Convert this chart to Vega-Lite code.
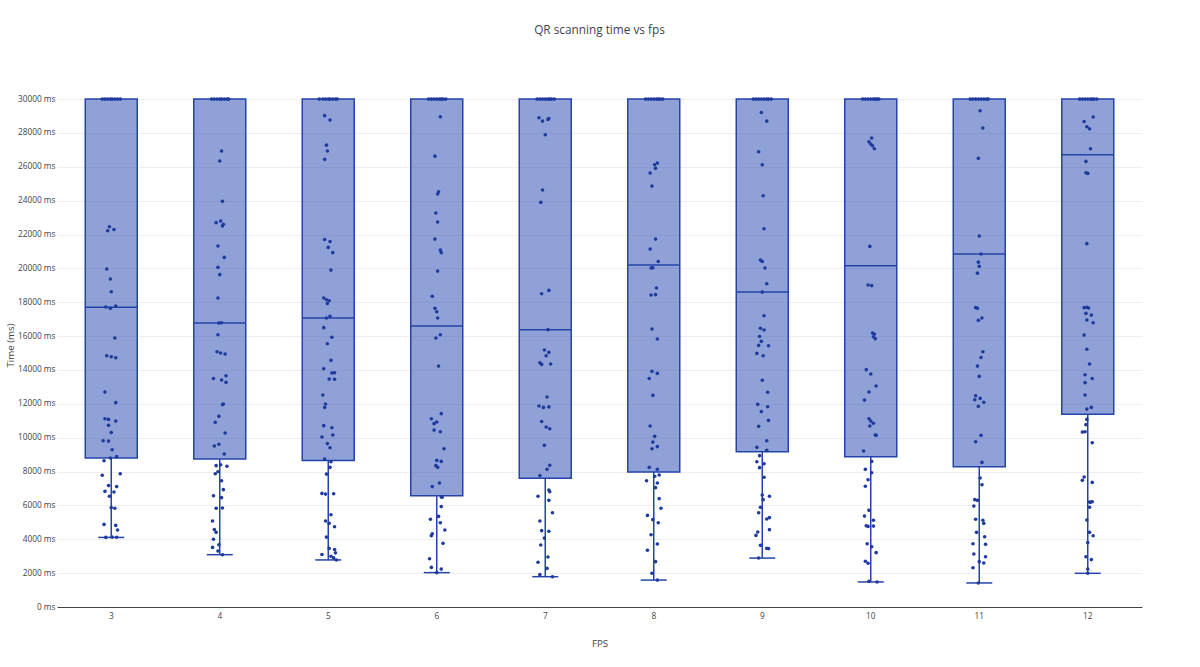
{
  "$schema": "https://vega.github.io/schema/vega-lite/v6.json",
  "width": 1085,
  "height": 524,
  "autosize": {"type": "none"},
  "padding": {"left": 57, "top": 83, "right": 58, "bottom": 60},
  "background": "white",
  "title": {"text": "QR scanning time vs fps", "font": "Open Sans", "fontSize": 11.8, "fontWeight": "normal", "color": "#444", "anchor": "middle", "offset": 46},
  "config": {
    "font": "Open Sans",
    "view": {"stroke": null},
    "axisY": {
      "labelOverlap": false,
      "domain": false,
      "ticks": false,
      "gridColor": "#eeeeee",
      "gridWidth": 1,
      "labelFont": "Open Sans",
      "labelFontSize": 8.3,
      "labelColor": "#444",
      "labelPadding": 2,
      "titleFont": "Open Sans",
      "titleFontSize": 9.7,
      "titleFontWeight": "normal",
      "titleColor": "#444"
    }
  },
  "datasets": {
    "boxes": [
      {"fps": 3, "lo": 4110, "q1": 8800, "med": 17700, "q3": 30000},
      {"fps": 4, "lo": 3090, "q1": 8740, "med": 16770, "q3": 30000},
      {"fps": 5, "lo": 2780, "q1": 8660, "med": 17070, "q3": 30000},
      {"fps": 6, "lo": 2030, "q1": 6570, "med": 16590, "q3": 30000},
      {"fps": 7, "lo": 1790, "q1": 7600, "med": 16380, "q3": 30000},
      {"fps": 8, "lo": 1590, "q1": 7970, "med": 20200, "q3": 30000},
      {"fps": 9, "lo": 2890, "q1": 9170, "med": 18600, "q3": 30000},
      {"fps": 10, "lo": 1480, "q1": 8880, "med": 20160, "q3": 30000},
      {"fps": 11, "lo": 1420, "q1": 8290, "med": 20850, "q3": 30000},
      {"fps": 12, "lo": 1990, "q1": 11380, "med": 26710, "q3": 30000}
    ],
    "pts": [
      {"fps": 3, "t": 30000, "j": -1.0}, {"fps": 3, "t": 30000, "j": -0.7}, {"fps": 3, "t": 30000, "j": -0.4}, {"fps": 3, "t": 30000, "j": -0.1},
      {"fps": 3, "t": 30000, "j": 0.1}, {"fps": 3, "t": 30000, "j": 0.4}, {"fps": 3, "t": 30000, "j": 0.7}, {"fps": 3, "t": 30000, "j": 1.0},
      {"fps": 3, "t": 22460, "j": -0.2}, {"fps": 3, "t": 22220, "j": -0.4}, {"fps": 3, "t": 22300, "j": 0.3},
      {"fps": 3, "t": 19960, "j": -0.5}, {"fps": 3, "t": 19370, "j": -0.1}, {"fps": 3, "t": 18620, "j": 0.0},
      {"fps": 3, "t": 17720, "j": -0.6}, {"fps": 3, "t": 17640, "j": -0.1}, {"fps": 3, "t": 17780, "j": 0.5},
      {"fps": 3, "t": 15890, "j": 0.4}, {"fps": 3, "t": 14840, "j": -0.5}, {"fps": 3, "t": 14780, "j": 0.0}, {"fps": 3, "t": 14720, "j": 0.5},
      {"fps": 3, "t": 12700, "j": -0.7}, {"fps": 3, "t": 12070, "j": 0.5}, {"fps": 3, "t": 11120, "j": -0.7},
      {"fps": 3, "t": 11080, "j": -0.3}, {"fps": 3, "t": 10980, "j": 0.5}, {"fps": 3, "t": 10730, "j": -0.3},
      {"fps": 3, "t": 10300, "j": 0.0}, {"fps": 3, "t": 9820, "j": -0.9}, {"fps": 3, "t": 9800, "j": -0.3},
      {"fps": 3, "t": 9290, "j": 0.1}, {"fps": 3, "t": 8880, "j": 0.6}, {"fps": 3, "t": 8800, "j": -0.1}, {"fps": 3, "t": 8640, "j": -0.8},
      {"fps": 3, "t": 7870, "j": 1.0}, {"fps": 3, "t": 7780, "j": -1.0}, {"fps": 3, "t": 7170, "j": -0.3}, {"fps": 3, "t": 7110, "j": 0.6},
      {"fps": 3, "t": 6830, "j": -0.7}, {"fps": 3, "t": 6790, "j": 0.3}, {"fps": 3, "t": 6540, "j": -0.2},
      {"fps": 3, "t": 5870, "j": 0.0}, {"fps": 3, "t": 5830, "j": 0.4}, {"fps": 3, "t": 4880, "j": -0.8},
      {"fps": 3, "t": 4820, "j": 0.5}, {"fps": 3, "t": 4550, "j": 0.7}, {"fps": 3, "t": 4110, "j": -0.6}, {"fps": 3, "t": 4130, "j": 0.1}, {"fps": 3, "t": 4120, "j": 0.6},

      {"fps": 4, "t": 30000, "j": -0.9}, {"fps": 4, "t": 30000, "j": -0.6}, {"fps": 4, "t": 30000, "j": -0.3}, {"fps": 4, "t": 30000, "j": 0.0},
      {"fps": 4, "t": 30000, "j": 0.2}, {"fps": 4, "t": 30000, "j": 0.5}, {"fps": 4, "t": 30000, "j": 0.8}, {"fps": 4, "t": 30000, "j": 1.0},
      {"fps": 4, "t": 26930, "j": 0.2}, {"fps": 4, "t": 26340, "j": 0.0}, {"fps": 4, "t": 23960, "j": 0.3},
      {"fps": 4, "t": 22800, "j": 0.1}, {"fps": 4, "t": 22700, "j": -0.4}, {"fps": 4, "t": 22600, "j": 0.4}, {"fps": 4, "t": 22500, "j": 0.3},
      {"fps": 4, "t": 21320, "j": -0.2}, {"fps": 4, "t": 20650, "j": 0.5}, {"fps": 4, "t": 20060, "j": -0.2}, {"fps": 4, "t": 19630, "j": 0.0},
      {"fps": 4, "t": 18250, "j": -0.2}, {"fps": 4, "t": 16770, "j": -0.1}, {"fps": 4, "t": 16790, "j": 0.2}, {"fps": 4, "t": 16080, "j": -0.2},
      {"fps": 4, "t": 15080, "j": -0.3}, {"fps": 4, "t": 15000, "j": 0.1}, {"fps": 4, "t": 14940, "j": 0.6},
      {"fps": 4, "t": 13660, "j": 0.7}, {"fps": 4, "t": 13500, "j": -0.7}, {"fps": 4, "t": 13410, "j": 0.2}, {"fps": 4, "t": 13270, "j": 0.7},
      {"fps": 4, "t": 11990, "j": 0.4}, {"fps": 4, "t": 11950, "j": 0.3}, {"fps": 4, "t": 11260, "j": -0.1}, {"fps": 4, "t": 10910, "j": -0.5},
      {"fps": 4, "t": 10280, "j": 0.6}, {"fps": 4, "t": 9610, "j": -0.1}, {"fps": 4, "t": 9510, "j": -0.6}, {"fps": 4, "t": 9040, "j": 0.5},
      {"fps": 4, "t": 8400, "j": 0.1}, {"fps": 4, "t": 8350, "j": -0.4}, {"fps": 4, "t": 8310, "j": 0.8},
      {"fps": 4, "t": 7990, "j": -0.2}, {"fps": 4, "t": 7870, "j": -0.5}, {"fps": 4, "t": 7460, "j": 0.2}, {"fps": 4, "t": 6930, "j": 0.4},
      {"fps": 4, "t": 6570, "j": -0.7}, {"fps": 4, "t": 6460, "j": 0.2}, {"fps": 4, "t": 5830, "j": -0.4}, {"fps": 4, "t": 5850, "j": 0.3},
      {"fps": 4, "t": 5080, "j": -0.8}, {"fps": 4, "t": 4570, "j": -0.6}, {"fps": 4, "t": 4410, "j": -0.4}, {"fps": 4, "t": 4000, "j": -0.7},
      {"fps": 4, "t": 3680, "j": -0.1}, {"fps": 4, "t": 3520, "j": -0.8}, {"fps": 4, "t": 3310, "j": -0.2}, {"fps": 4, "t": 3090, "j": 0.3},

      {"fps": 5, "t": 30000, "j": -1.0}, {"fps": 5, "t": 30000, "j": -0.6}, {"fps": 5, "t": 30000, "j": -0.3}, {"fps": 5, "t": 30000, "j": 0.0},
      {"fps": 5, "t": 30000, "j": 0.2}, {"fps": 5, "t": 30000, "j": 0.5}, {"fps": 5, "t": 30000, "j": 0.8}, {"fps": 5, "t": 30000, "j": 1.0},
      {"fps": 5, "t": 29020, "j": -0.4}, {"fps": 5, "t": 28760, "j": 0.2}, {"fps": 5, "t": 27280, "j": -0.2}, {"fps": 5, "t": 26930, "j": -0.1}, {"fps": 5, "t": 26440, "j": -0.4},
      {"fps": 5, "t": 21710, "j": -0.4}, {"fps": 5, "t": 21590, "j": 0.2}, {"fps": 5, "t": 21240, "j": 0.0}, {"fps": 5, "t": 20930, "j": 0.5},
      {"fps": 5, "t": 19900, "j": 0.3}, {"fps": 5, "t": 18250, "j": -0.5}, {"fps": 5, "t": 18150, "j": -0.2}, {"fps": 5, "t": 18090, "j": 0.1}, {"fps": 5, "t": 17930, "j": -0.1},
      {"fps": 5, "t": 17170, "j": 0.2}, {"fps": 5, "t": 17070, "j": -0.2}, {"fps": 5, "t": 16500, "j": -0.5}, {"fps": 5, "t": 15930, "j": 0.4},
      {"fps": 5, "t": 15550, "j": -0.1}, {"fps": 5, "t": 14570, "j": 0.3}, {"fps": 5, "t": 14070, "j": -0.5}, {"fps": 5, "t": 13840, "j": 0.7},
      {"fps": 5, "t": 13820, "j": 0.4}, {"fps": 5, "t": 13460, "j": 0.1}, {"fps": 5, "t": 13450, "j": 0.7}, {"fps": 5, "t": 12520, "j": -0.6},
      {"fps": 5, "t": 11990, "j": -0.3}, {"fps": 5, "t": 11790, "j": -0.4}, {"fps": 5, "t": 10710, "j": -0.5}, {"fps": 5, "t": 10590, "j": 0.4},
      {"fps": 5, "t": 10160, "j": 0.5}, {"fps": 5, "t": 10040, "j": -0.7}, {"fps": 5, "t": 9650, "j": -0.1}, {"fps": 5, "t": 9410, "j": 0.2},
      {"fps": 5, "t": 8740, "j": -0.4}, {"fps": 5, "t": 8580, "j": 0.3}, {"fps": 5, "t": 8250, "j": 0.2}, {"fps": 5, "t": 7850, "j": -0.2},
      {"fps": 5, "t": 6710, "j": -0.7}, {"fps": 5, "t": 6670, "j": -0.3}, {"fps": 5, "t": 6690, "j": 0.6},
      {"fps": 5, "t": 5450, "j": 0.3}, {"fps": 5, "t": 5080, "j": -0.3}, {"fps": 5, "t": 4940, "j": 0.1}, {"fps": 5, "t": 4740, "j": 0.7},
      {"fps": 5, "t": 4130, "j": -0.2}, {"fps": 5, "t": 3460, "j": 0.1}, {"fps": 5, "t": 3400, "j": 0.7}, {"fps": 5, "t": 3200, "j": 0.8},
      {"fps": 5, "t": 3100, "j": -0.7}, {"fps": 5, "t": 3000, "j": 0.3}, {"fps": 5, "t": 2900, "j": 0.6}, {"fps": 5, "t": 2780, "j": 0.9},

      {"fps": 6, "t": 30000, "j": -0.9}, {"fps": 6, "t": 30000, "j": -0.6}, {"fps": 6, "t": 30000, "j": -0.3}, {"fps": 6, "t": 30000, "j": 0.0},
      {"fps": 6, "t": 30000, "j": 0.3}, {"fps": 6, "t": 30000, "j": 0.5}, {"fps": 6, "t": 30000, "j": 0.7}, {"fps": 6, "t": 30000, "j": 1.0},
      {"fps": 6, "t": 28960, "j": 0.4}, {"fps": 6, "t": 26630, "j": -0.2}, {"fps": 6, "t": 24530, "j": 0.2}, {"fps": 6, "t": 24390, "j": 0.1},
      {"fps": 6, "t": 23270, "j": -0.1}, {"fps": 6, "t": 22740, "j": 0.1}, {"fps": 6, "t": 21730, "j": -0.2}, {"fps": 6, "t": 21080, "j": 0.4},
      {"fps": 6, "t": 20930, "j": 0.5}, {"fps": 6, "t": 19840, "j": 0.1}, {"fps": 6, "t": 18350, "j": -0.5}, {"fps": 6, "t": 17640, "j": -0.2},
      {"fps": 6, "t": 17440, "j": 0.0}, {"fps": 6, "t": 17070, "j": 0.1}, {"fps": 6, "t": 16080, "j": 0.4}, {"fps": 6, "t": 15890, "j": -0.1},
      {"fps": 6, "t": 14230, "j": 0.2}, {"fps": 6, "t": 11420, "j": 0.5}, {"fps": 6, "t": 11120, "j": -0.6}, {"fps": 6, "t": 10930, "j": 0.0},
      {"fps": 6, "t": 10830, "j": -0.3}, {"fps": 6, "t": 10450, "j": -0.3}, {"fps": 6, "t": 10350, "j": 0.4}, {"fps": 6, "t": 9350, "j": 0.8},
      {"fps": 6, "t": 8660, "j": 0.0}, {"fps": 6, "t": 8600, "j": 0.5}, {"fps": 6, "t": 8350, "j": -0.1}, {"fps": 6, "t": 8250, "j": 0.1},
      {"fps": 6, "t": 7320, "j": 0.3}, {"fps": 6, "t": 7110, "j": -0.5}, {"fps": 6, "t": 6500, "j": 0.5}, {"fps": 6, "t": 6480, "j": 0.6},
      {"fps": 6, "t": 5930, "j": 0.5}, {"fps": 6, "t": 5350, "j": 0.2}, {"fps": 6, "t": 5180, "j": -0.7}, {"fps": 6, "t": 4980, "j": 0.4},
      {"fps": 6, "t": 4550, "j": 0.9}, {"fps": 6, "t": 4330, "j": -0.5}, {"fps": 6, "t": 4210, "j": -0.6}, {"fps": 6, "t": 3760, "j": 0.7},
      {"fps": 6, "t": 2850, "j": -0.8}, {"fps": 6, "t": 2340, "j": -0.6}, {"fps": 6, "t": 2240, "j": 0.5}, {"fps": 6, "t": 2030, "j": 0.0},

      {"fps": 7, "t": 30000, "j": -0.9}, {"fps": 7, "t": 30000, "j": -0.6}, {"fps": 7, "t": 30000, "j": -0.3}, {"fps": 7, "t": 30000, "j": 0.0},
      {"fps": 7, "t": 30000, "j": 0.3}, {"fps": 7, "t": 30000, "j": 0.5}, {"fps": 7, "t": 30000, "j": 0.7}, {"fps": 7, "t": 30000, "j": 1.0},
      {"fps": 7, "t": 28900, "j": -0.7}, {"fps": 7, "t": 28700, "j": -0.3}, {"fps": 7, "t": 28800, "j": 0.3}, {"fps": 7, "t": 28850, "j": 0.4},
      {"fps": 7, "t": 27890, "j": 0.0}, {"fps": 7, "t": 24630, "j": -0.3}, {"fps": 7, "t": 23900, "j": -0.5}, {"fps": 7, "t": 18700, "j": 0.4},
      {"fps": 7, "t": 18500, "j": -0.4}, {"fps": 7, "t": 16380, "j": 0.3}, {"fps": 7, "t": 15180, "j": -0.1}, {"fps": 7, "t": 15040, "j": 0.4},
      {"fps": 7, "t": 14840, "j": 0.1}, {"fps": 7, "t": 14430, "j": -0.6}, {"fps": 7, "t": 14330, "j": -0.4}, {"fps": 7, "t": 14350, "j": 0.6},
      {"fps": 7, "t": 12400, "j": 0.2}, {"fps": 7, "t": 11870, "j": -0.7}, {"fps": 7, "t": 11790, "j": -0.2}, {"fps": 7, "t": 11820, "j": 0.4},
      {"fps": 7, "t": 10960, "j": -0.4}, {"fps": 7, "t": 10630, "j": 0.1}, {"fps": 7, "t": 10530, "j": 0.5}, {"fps": 7, "t": 9550, "j": -0.1},
      {"fps": 7, "t": 8370, "j": 0.5}, {"fps": 7, "t": 8130, "j": 0.2}, {"fps": 7, "t": 7760, "j": -0.6}, {"fps": 7, "t": 6910, "j": 0.4},
      {"fps": 7, "t": 6810, "j": 0.5}, {"fps": 7, "t": 6540, "j": -0.8}, {"fps": 7, "t": 6300, "j": 0.4}, {"fps": 7, "t": 5570, "j": 0.8},
      {"fps": 7, "t": 5080, "j": -0.6}, {"fps": 7, "t": 4510, "j": -0.4}, {"fps": 7, "t": 4470, "j": 0.4}, {"fps": 7, "t": 4070, "j": -0.1},
      {"fps": 7, "t": 3660, "j": -0.5}, {"fps": 7, "t": 2950, "j": 0.3}, {"fps": 7, "t": 2640, "j": -0.8}, {"fps": 7, "t": 2280, "j": 0.2},
      {"fps": 7, "t": 1910, "j": -0.6}, {"fps": 7, "t": 1790, "j": 0.8},

      {"fps": 8, "t": 30000, "j": -0.9}, {"fps": 8, "t": 30000, "j": -0.6}, {"fps": 8, "t": 30000, "j": -0.3}, {"fps": 8, "t": 30000, "j": 0.0},
      {"fps": 8, "t": 30000, "j": 0.3}, {"fps": 8, "t": 30000, "j": 0.5}, {"fps": 8, "t": 30000, "j": 0.7}, {"fps": 8, "t": 30000, "j": 1.0},
      {"fps": 8, "t": 26220, "j": 0.4}, {"fps": 8, "t": 26120, "j": 0.1}, {"fps": 8, "t": 25910, "j": 0.2}, {"fps": 8, "t": 25630, "j": -0.4},
      {"fps": 8, "t": 24860, "j": -0.2}, {"fps": 8, "t": 21730, "j": 0.2}, {"fps": 8, "t": 21140, "j": -0.4}, {"fps": 8, "t": 20410, "j": 0.5},
      {"fps": 8, "t": 20020, "j": -0.3}, {"fps": 8, "t": 20040, "j": -0.1}, {"fps": 8, "t": 18840, "j": 0.3}, {"fps": 8, "t": 18430, "j": -0.3},
      {"fps": 8, "t": 18450, "j": 0.2}, {"fps": 8, "t": 16420, "j": -0.2}, {"fps": 8, "t": 15830, "j": 0.4}, {"fps": 8, "t": 13920, "j": -0.2},
      {"fps": 8, "t": 13800, "j": 0.4}, {"fps": 8, "t": 13500, "j": -0.5}, {"fps": 8, "t": 12500, "j": -0.1}, {"fps": 8, "t": 10690, "j": -0.4},
      {"fps": 8, "t": 10080, "j": 0.1}, {"fps": 8, "t": 9740, "j": -0.1}, {"fps": 8, "t": 9470, "j": 0.4}, {"fps": 8, "t": 9350, "j": -0.2},
      {"fps": 8, "t": 8250, "j": -0.5}, {"fps": 8, "t": 8130, "j": 0.4}, {"fps": 8, "t": 7800, "j": 0.6}, {"fps": 8, "t": 7720, "j": 0.1},
      {"fps": 8, "t": 7460, "j": -0.8}, {"fps": 8, "t": 7320, "j": 0.4}, {"fps": 8, "t": 7050, "j": 0.2}, {"fps": 8, "t": 6400, "j": 0.6},
      {"fps": 8, "t": 5830, "j": 0.8}, {"fps": 8, "t": 5410, "j": -0.7}, {"fps": 8, "t": 5160, "j": -0.1}, {"fps": 8, "t": 4980, "j": 0.5},
      {"fps": 8, "t": 4270, "j": -0.3}, {"fps": 8, "t": 3720, "j": 0.4}, {"fps": 8, "t": 3350, "j": -0.7}, {"fps": 8, "t": 2680, "j": 0.2},
      {"fps": 8, "t": 1990, "j": -0.2}, {"fps": 8, "t": 1590, "j": 0.4},

      {"fps": 9, "t": 30000, "j": -1.0}, {"fps": 9, "t": 30000, "j": -0.7}, {"fps": 9, "t": 30000, "j": -0.4}, {"fps": 9, "t": 30000, "j": -0.1},
      {"fps": 9, "t": 30000, "j": 0.2}, {"fps": 9, "t": 30000, "j": 0.5}, {"fps": 9, "t": 30000, "j": 0.7}, {"fps": 9, "t": 30000, "j": 1.0},
      {"fps": 9, "t": 29210, "j": -0.1}, {"fps": 9, "t": 28700, "j": 0.5}, {"fps": 9, "t": 26890, "j": -0.4}, {"fps": 9, "t": 26120, "j": 0.0},
      {"fps": 9, "t": 24290, "j": 0.1}, {"fps": 9, "t": 22340, "j": 0.2}, {"fps": 9, "t": 20490, "j": -0.2}, {"fps": 9, "t": 20410, "j": 0.0},
      {"fps": 9, "t": 20020, "j": 0.3}, {"fps": 9, "t": 19090, "j": 0.5}, {"fps": 9, "t": 18600, "j": 0.0}, {"fps": 9, "t": 17200, "j": 0.2},
      {"fps": 9, "t": 16460, "j": -0.2}, {"fps": 9, "t": 16360, "j": 0.2}, {"fps": 9, "t": 15980, "j": -0.3}, {"fps": 9, "t": 15690, "j": -0.1},
      {"fps": 9, "t": 15450, "j": -0.4}, {"fps": 9, "t": 15430, "j": 0.7}, {"fps": 9, "t": 14980, "j": -0.6}, {"fps": 9, "t": 14840, "j": 0.1},
      {"fps": 9, "t": 13390, "j": 0.0}, {"fps": 9, "t": 12680, "j": 0.6}, {"fps": 9, "t": 11970, "j": -0.5}, {"fps": 9, "t": 11830, "j": 0.6},
      {"fps": 9, "t": 11540, "j": -0.1}, {"fps": 9, "t": 11020, "j": 0.7}, {"fps": 9, "t": 10670, "j": -0.4}, {"fps": 9, "t": 9820, "j": 0.5},
      {"fps": 9, "t": 9430, "j": -0.6}, {"fps": 9, "t": 9250, "j": 0.5}, {"fps": 9, "t": 8940, "j": -0.3}, {"fps": 9, "t": 8580, "j": -0.6},
      {"fps": 9, "t": 8460, "j": 0.2}, {"fps": 9, "t": 8230, "j": -0.3}, {"fps": 9, "t": 7660, "j": 0.2}, {"fps": 9, "t": 6610, "j": 0.0},
      {"fps": 9, "t": 6540, "j": 0.8}, {"fps": 9, "t": 6340, "j": 0.1}, {"fps": 9, "t": 5890, "j": -0.2}, {"fps": 9, "t": 5570, "j": -0.4},
      {"fps": 9, "t": 5280, "j": 0.8}, {"fps": 9, "t": 5200, "j": 0.5}, {"fps": 9, "t": 4570, "j": 0.8}, {"fps": 9, "t": 4430, "j": -0.5},
      {"fps": 9, "t": 4230, "j": -0.7}, {"fps": 9, "t": 3640, "j": -0.2}, {"fps": 9, "t": 3460, "j": 0.5}, {"fps": 9, "t": 3450, "j": 0.7},
      {"fps": 9, "t": 2890, "j": -0.4},

      {"fps": 10, "t": 30000, "j": -0.9}, {"fps": 10, "t": 30000, "j": -0.6}, {"fps": 10, "t": 30000, "j": -0.3}, {"fps": 10, "t": 30000, "j": 0.0},
      {"fps": 10, "t": 30000, "j": 0.3}, {"fps": 10, "t": 30000, "j": 0.5}, {"fps": 10, "t": 30000, "j": 0.7}, {"fps": 10, "t": 30000, "j": 0.9},
      {"fps": 10, "t": 27700, "j": 0.1}, {"fps": 10, "t": 27480, "j": -0.2}, {"fps": 10, "t": 27340, "j": 0.0}, {"fps": 10, "t": 27240, "j": 0.2},
      {"fps": 10, "t": 27070, "j": 0.4}, {"fps": 10, "t": 21300, "j": -0.1}, {"fps": 10, "t": 19020, "j": -0.3}, {"fps": 10, "t": 18980, "j": 0.1},
      {"fps": 10, "t": 16180, "j": 0.2}, {"fps": 10, "t": 16120, "j": 0.4}, {"fps": 10, "t": 15960, "j": 0.3}, {"fps": 10, "t": 15850, "j": 0.5},
      {"fps": 10, "t": 14020, "j": -0.5}, {"fps": 10, "t": 13760, "j": 0.0}, {"fps": 10, "t": 13050, "j": 0.6}, {"fps": 10, "t": 12700, "j": -0.2},
      {"fps": 10, "t": 12220, "j": -0.7}, {"fps": 10, "t": 11120, "j": -0.2}, {"fps": 10, "t": 10980, "j": 0.0}, {"fps": 10, "t": 10850, "j": 0.3},
      {"fps": 10, "t": 10690, "j": -0.1}, {"fps": 10, "t": 10140, "j": 0.6}, {"fps": 10, "t": 10160, "j": 0.5}, {"fps": 10, "t": 9210, "j": -0.8},
      {"fps": 10, "t": 8600, "j": 0.1}, {"fps": 10, "t": 8130, "j": -0.6}, {"fps": 10, "t": 7930, "j": 0.1}, {"fps": 10, "t": 7520, "j": -0.3},
      {"fps": 10, "t": 7130, "j": -0.6}, {"fps": 10, "t": 5710, "j": -0.2}, {"fps": 10, "t": 5370, "j": -0.7}, {"fps": 10, "t": 5120, "j": 0.3},
      {"fps": 10, "t": 4800, "j": -0.5}, {"fps": 10, "t": 4760, "j": -0.3}, {"fps": 10, "t": 4780, "j": 0.3}, {"fps": 10, "t": 3740, "j": -0.4},
      {"fps": 10, "t": 3560, "j": 0.1}, {"fps": 10, "t": 3210, "j": 0.6}, {"fps": 10, "t": 2700, "j": -0.6}, {"fps": 10, "t": 2580, "j": -0.3},
      {"fps": 10, "t": 1520, "j": -0.2}, {"fps": 10, "t": 1480, "j": 0.7},

      {"fps": 11, "t": 30000, "j": -1.0}, {"fps": 11, "t": 30000, "j": -0.7}, {"fps": 11, "t": 30000, "j": -0.4}, {"fps": 11, "t": 30000, "j": -0.1},
      {"fps": 11, "t": 30000, "j": 0.2}, {"fps": 11, "t": 30000, "j": 0.5}, {"fps": 11, "t": 30000, "j": 0.8}, {"fps": 11, "t": 30000, "j": 1.0},
      {"fps": 11, "t": 29310, "j": 0.1}, {"fps": 11, "t": 28290, "j": 0.4}, {"fps": 11, "t": 26500, "j": -0.1}, {"fps": 11, "t": 21910, "j": 0.0},
      {"fps": 11, "t": 20850, "j": 0.2}, {"fps": 11, "t": 20370, "j": -0.1}, {"fps": 11, "t": 20120, "j": 0.0}, {"fps": 11, "t": 19720, "j": -0.2},
      {"fps": 11, "t": 17680, "j": -0.4}, {"fps": 11, "t": 17640, "j": -0.2}, {"fps": 11, "t": 17070, "j": 0.3}, {"fps": 11, "t": 16930, "j": -0.1},
      {"fps": 11, "t": 15080, "j": 0.4}, {"fps": 11, "t": 14740, "j": 0.2}, {"fps": 11, "t": 14230, "j": -0.2}, {"fps": 11, "t": 13620, "j": 0.0},
      {"fps": 11, "t": 12480, "j": -0.4}, {"fps": 11, "t": 12320, "j": 0.1}, {"fps": 11, "t": 12240, "j": -0.5}, {"fps": 11, "t": 12090, "j": 0.5},
      {"fps": 11, "t": 11850, "j": -0.1}, {"fps": 11, "t": 10140, "j": 0.2}, {"fps": 11, "t": 9760, "j": -0.4}, {"fps": 11, "t": 8540, "j": 0.3},
      {"fps": 11, "t": 7620, "j": 0.1}, {"fps": 11, "t": 7220, "j": 0.3}, {"fps": 11, "t": 6340, "j": -0.5}, {"fps": 11, "t": 6300, "j": -0.2},
      {"fps": 11, "t": 5960, "j": -0.6}, {"fps": 11, "t": 5180, "j": -0.4}, {"fps": 11, "t": 5120, "j": 0.4}, {"fps": 11, "t": 4940, "j": 0.5},
      {"fps": 11, "t": 4410, "j": -0.3}, {"fps": 11, "t": 4150, "j": 0.6}, {"fps": 11, "t": 3740, "j": -0.7}, {"fps": 11, "t": 3700, "j": 0.7},
      {"fps": 11, "t": 3130, "j": -0.6}, {"fps": 11, "t": 2970, "j": 0.7}, {"fps": 11, "t": 2680, "j": 0.0}, {"fps": 11, "t": 2600, "j": 0.5},
      {"fps": 11, "t": 2320, "j": -0.7}, {"fps": 11, "t": 1420, "j": -0.1},

      {"fps": 12, "t": 30000, "j": -0.9}, {"fps": 12, "t": 30000, "j": -0.6}, {"fps": 12, "t": 30000, "j": -0.3}, {"fps": 12, "t": 30000, "j": 0.0},
      {"fps": 12, "t": 30000, "j": 0.3}, {"fps": 12, "t": 30000, "j": 0.5}, {"fps": 12, "t": 30000, "j": 0.7}, {"fps": 12, "t": 30000, "j": 1.0},
      {"fps": 12, "t": 28940, "j": 0.6}, {"fps": 12, "t": 28680, "j": -0.4}, {"fps": 12, "t": 28370, "j": -0.1}, {"fps": 12, "t": 28250, "j": 0.2},
      {"fps": 12, "t": 27070, "j": 0.3}, {"fps": 12, "t": 26320, "j": -0.2}, {"fps": 12, "t": 25650, "j": -0.2}, {"fps": 12, "t": 25610, "j": 0.0},
      {"fps": 12, "t": 21460, "j": -0.1}, {"fps": 12, "t": 17680, "j": -0.4}, {"fps": 12, "t": 17700, "j": -0.1}, {"fps": 12, "t": 17660, "j": 0.1},
      {"fps": 12, "t": 17340, "j": -0.2}, {"fps": 12, "t": 17240, "j": 0.4}, {"fps": 12, "t": 16950, "j": -0.1}, {"fps": 12, "t": 16790, "j": 0.6},
      {"fps": 12, "t": 16060, "j": -0.4}, {"fps": 12, "t": 15220, "j": -0.1}, {"fps": 12, "t": 14350, "j": 0.2}, {"fps": 12, "t": 13720, "j": -0.3},
      {"fps": 12, "t": 13500, "j": 0.5}, {"fps": 12, "t": 13250, "j": -0.3}, {"fps": 12, "t": 12520, "j": -0.3}, {"fps": 12, "t": 11790, "j": 0.4},
      {"fps": 12, "t": 11690, "j": -0.1}, {"fps": 12, "t": 11080, "j": -0.1}, {"fps": 12, "t": 10770, "j": -0.2}, {"fps": 12, "t": 10330, "j": -0.6},
      {"fps": 12, "t": 10350, "j": -0.3}, {"fps": 12, "t": 9700, "j": 0.5}, {"fps": 12, "t": 7680, "j": -0.4}, {"fps": 12, "t": 7480, "j": -0.6},
      {"fps": 12, "t": 7360, "j": 0.5}, {"fps": 12, "t": 6200, "j": 0.2}, {"fps": 12, "t": 6220, "j": 0.5}, {"fps": 12, "t": 6180, "j": 0.3},
      {"fps": 12, "t": 5890, "j": 0.2}, {"fps": 12, "t": 5140, "j": -0.1}, {"fps": 12, "t": 4410, "j": 0.2}, {"fps": 12, "t": 4210, "j": 0.6},
      {"fps": 12, "t": 3800, "j": 0.0}, {"fps": 12, "t": 2970, "j": -0.2}, {"fps": 12, "t": 2800, "j": 0.4}, {"fps": 12, "t": 2240, "j": 0.0},
      {"fps": 12, "t": 1990, "j": 0.0}
    ]
  },
  "encoding": {
    "x": {
      "field": "fps",
      "type": "ordinal",
      "scale": {"paddingInner": 0, "paddingOuter": 0},
      "axis": {
        "title": "FPS",
        "labelAngle": 0,
        "ticks": false,
        "grid": false,
        "domainColor": "#444",
        "domainWidth": 1,
        "labelFont": "Open Sans",
        "labelFontSize": 8.3,
        "labelColor": "#444",
        "labelPadding": 4,
        "titleFont": "Open Sans",
        "titleFontSize": 9.7,
        "titleFontWeight": "normal",
        "titleColor": "#444",
        "titlePadding": 19
      }
    }
  },
  "layer": [
    {
      "data": {"name": "boxes"},
      "mark": {"type": "bar", "width": 52, "fill": "#1f43ad", "fillOpacity": 0.5, "stroke": "#2444aa", "strokeWidth": 1.5},
      "encoding": {
        "y": {
          "field": "q1",
          "type": "quantitative",
          "title": "Time (ms)",
          "scale": {"domain": [0, 30950], "nice": false},
          "axis": {"values": [0, 2000, 4000, 6000, 8000, 10000, 12000, 14000, 16000, 18000, 20000, 22000, 24000, 26000, 28000, 30000], "labelExpr": "datum.value + ' ms'", "labelOverlap": false, "titleX": -42}
        },
        "y2": {"field": "q3"}
      }
    },
    {
      "data": {"name": "boxes"},
      "mark": {"type": "rule", "stroke": "#2444aa", "strokeWidth": 1.5},
      "encoding": {
        "y": {
          "field": "lo",
          "type": "quantitative",
          "title": "Time (ms)",
          "scale": {"domain": [0, 30950], "nice": false},
          "axis": {"values": [0, 2000, 4000, 6000, 8000, 10000, 12000, 14000, 16000, 18000, 20000, 22000, 24000, 26000, 28000, 30000], "labelExpr": "datum.value + ' ms'", "labelOverlap": false, "titleX": -42}
        },
        "y2": {"field": "q1"}
      }
    },
    {
      "data": {"name": "boxes"},
      "mark": {"type": "tick", "color": "#2444aa", "size": 26, "thickness": 1.5, "opacity": 1},
      "encoding": {
        "y": {
          "field": "lo",
          "type": "quantitative",
          "title": "Time (ms)",
          "scale": {"domain": [0, 30950], "nice": false},
          "axis": {"values": [0, 2000, 4000, 6000, 8000, 10000, 12000, 14000, 16000, 18000, 20000, 22000, 24000, 26000, 28000, 30000], "labelExpr": "datum.value + ' ms'", "labelOverlap": false, "titleX": -42}
        }
      }
    },
    {
      "data": {"name": "boxes"},
      "mark": {"type": "tick", "color": "#2444aa", "size": 52, "thickness": 1.5, "opacity": 1},
      "encoding": {
        "y": {
          "field": "med",
          "type": "quantitative",
          "title": "Time (ms)",
          "scale": {"domain": [0, 30950], "nice": false},
          "axis": {"values": [0, 2000, 4000, 6000, 8000, 10000, 12000, 14000, 16000, 18000, 20000, 22000, 24000, 26000, 28000, 30000], "labelExpr": "datum.value + ' ms'", "labelOverlap": false, "titleX": -42}
        }
      }
    },
    {
      "data": {"name": "pts"},
      "mark": {"type": "circle", "size": 13, "color": "#1f3a9e", "opacity": 1},
      "encoding": {
        "y": {
          "field": "t",
          "type": "quantitative",
          "title": "Time (ms)",
          "scale": {"domain": [0, 30950], "nice": false},
          "axis": {"values": [0, 2000, 4000, 6000, 8000, 10000, 12000, 14000, 16000, 18000, 20000, 22000, 24000, 26000, 28000, 30000], "labelExpr": "datum.value + ' ms'", "labelOverlap": false, "titleX": -42}
        },
        "xOffset": {"field": "j", "type": "quantitative", "scale": {"domain": [-1, 1], "range": [45.25, 63.25]}}
      }
    }
  ]
}
